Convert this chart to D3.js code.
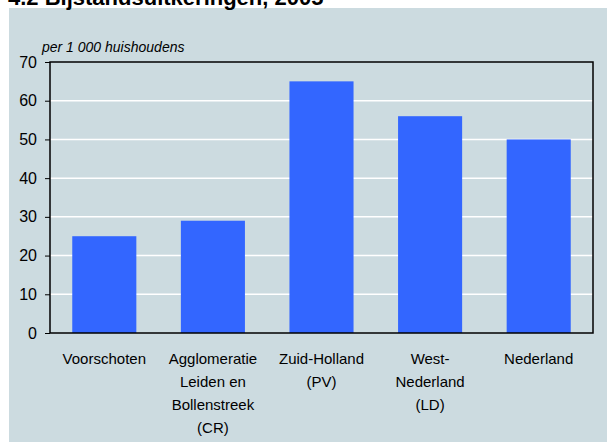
<!DOCTYPE html>
<meta charset="utf-8">
<style>
    body { margin: 0; background: #fff; }
    svg { display: block; font-family: "Liberation Sans", Arial, sans-serif; }
    .grid line { stroke: #fff; stroke-width: 1.5; }
</style>
<svg width="607" height="442"></svg>
<script src="https://cdn.jsdelivr.net/npm/d3@7"></script>
<script>
    // categories (multi-line labels) and values
    var categories = ["Voorschoten", "Agglomeratie|Leiden en|Bollenstreek|(CR)", "Zuid-Holland|(PV)", "West-|Nederland|(LD)", "Nederland"];
    var values = [25, 29, 65, 56, 50];
    var yTicks = [0, 10, 20, 30, 40, 50, 60, 70];

    var svg = d3.select("svg"),
        margin = { top: 62, right: 14, bottom: 109, left: 50 },
        width = +svg.attr("width") - margin.left - margin.right,
        height = +svg.attr("height") - margin.top - margin.bottom;

    // grey-blue panel
    svg.append("rect")
        .attr("x", 9).attr("y", 8)
        .attr("width", 607 - 9).attr("height", 442 - 8)
        .attr("fill", "#ccdbe0");

    // title, cut off at top like the original
    svg.append("text")
        .attr("x", 8).attr("y", 5)
        .attr("font-size", 22).attr("font-weight", "bold")
        .attr("fill", "#000")
        .text("4.2 Bijstandsuitkeringen, 2005");

    svg.append("text")
        .attr("x", 42).attr("y", 52)
        .attr("font-size", 14).attr("font-style", "italic")
        .text("per 1 000 huishoudens");

    var x = d3.scaleBand().domain(categories).range([0, width]).paddingInner(0.41).paddingOuter(0.205);
    var y = d3.scaleLinear().domain([0, 70]).range([height, 0]);

    var g = svg.append("g").attr("transform", "translate(" + margin.left + "," + margin.top + ")");

    // gridlines
    g.append("g").attr("class", "grid")
        .selectAll("line")
        .data(yTicks.filter(function (d) { return d > 0 && d < 70; }))
        .enter().append("line")
        .attr("x1", 0).attr("x2", width)
        .attr("y1", function (d) { return y(d); })
        .attr("y2", function (d) { return y(d); });

    g.selectAll(".bar")
        .data(values)
        .enter().append("rect")
        .attr("class", "bar")
        .attr("x", function (d, i) { return x(categories[i]); })
        .attr("width", x.bandwidth())
        .attr("y", function (d) { return y(d); })
        .attr("height", function (d) { return height - y(d); })
        .attr("fill", "#3366ff");

    // frame
    g.append("rect")
        .attr("width", width).attr("height", height)
        .attr("fill", "none").attr("stroke", "#000").attr("stroke-width", 1.5);

    var yAxis = d3.axisLeft(y).tickValues(yTicks).tickSize(5).tickPadding(8);
    var ya = g.append("g").call(yAxis);
    ya.select(".domain").remove();
    ya.selectAll("text").attr("font-size", 16).attr("font-family", null).attr("fill", "#000");
    ya.selectAll("line").attr("stroke", "#000");

    // category labels
    var lab = g.append("g").attr("transform", "translate(0," + height + ")");
    categories.forEach(function (c) {
        var t = lab.append("text")
            .attr("text-anchor", "middle")
            .attr("font-size", 15)
            .attr("fill", "#000")
            .attr("x", x(c) + x.bandwidth() / 2)
            .attr("y", 31);
        c.split("|").forEach(function (line, i) {
            t.append("tspan")
                .attr("x", x(c) + x.bandwidth() / 2)
                .attr("dy", i === 0 ? 0 : 23)
                .text(line);
        });
    });
</script>
